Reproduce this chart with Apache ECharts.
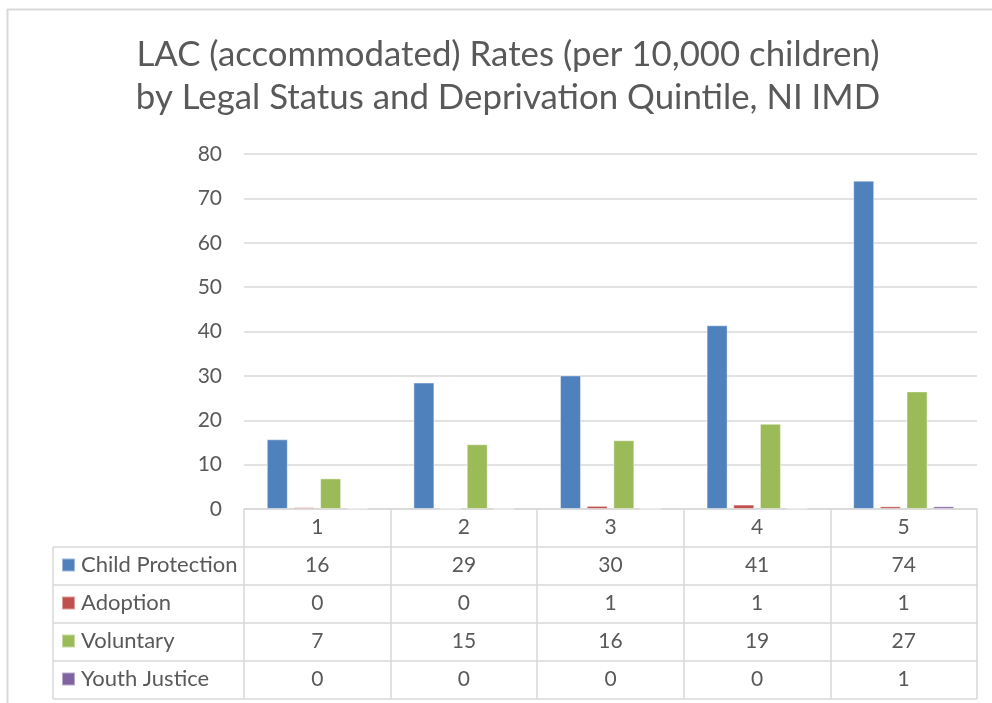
<!DOCTYPE html>
<html>
<head>
<meta charset="utf-8">
<script src="https://cdn.jsdelivr.net/npm/echarts@6/dist/echarts.min.js"></script>
<style>html,body{margin:0;padding:0;background:#fff;}#c{width:992px;height:703px;}</style>
</head>
<body>
<div id="c"></div>
<script>
const categories = ['1', '2', '3', '4', '5'];
const seriesNames = ['Child Protection', 'Adoption', 'Voluntary', 'Youth Justice'];
const childProtection = [15.7, 28.5, 30.1, 41.4, 74.0];
const adoption = [0.4, 0.1, 0.7, 1.0, 0.6];
const voluntary = [6.9, 14.6, 15.5, 19.2, 26.5];
const youthJustice = [0.1, 0.0, 0.05, 0.1, 0.6];
const yTicks = { min: 0, max: 80, interval: 10 };

const seriesValues = [childProtection, adoption, voluntary, youthJustice];
const colors = ['#4F81BD', '#C0504D', '#9BBB59', '#8064A2'];
const FONT = 'Lato';
const TXT = '#595959';
const LINE = '#D9D9D9';

const W = 992, H = 703;
const GRID_LEFT = 244, GRID_RIGHT_X = 977, GRID_TOP = 154, AXIS_Y = 509;
const ROW_H = 38;
const TABLE_LEFT = 53;
const FS = 21;
const LFS = 22;

const xAxes = [];
for (let k = 0; k <= seriesValues.length; k++) {
  xAxes.push({
    type: 'category',
    data: categories,
    position: 'bottom',
    offset: k * ROW_H,
    boundaryGap: true,
    axisLine: { show: true, lineStyle: { color: LINE, width: 1.5 } },
    axisTick: { show: true, interval: 0, length: ROW_H, lineStyle: { color: LINE, width: 1.5 } },
    axisLabel: {
      show: true, interval: 0, margin: 8, color: TXT, fontSize: FS, fontFamily: FONT,
      formatter: k === 0 ? null : (function (arr) { return function (v, i) { return String(Math.round(arr[i])); }; })(seriesValues[k - 1])
    },
    splitLine: { show: false }
  });
}

const graphics = [];
const gl = (x1, y1, x2, y2, w) => graphics.push({ type: 'line', silent: true, shape: { x1, y1, x2, y2 }, style: { stroke: LINE, lineWidth: w || 1.5 } });
// outer chart frame
gl(7, 9.5, W, 9.5, 2);
gl(7.5, 9, 7.5, H, 2);
// data-table label column
for (let k = 1; k <= seriesValues.length; k++) gl(TABLE_LEFT, AXIS_Y + k * ROW_H, GRID_LEFT, AXIS_Y + k * ROW_H);
gl(TABLE_LEFT, AXIS_Y + (seriesValues.length + 1) * ROW_H, GRID_RIGHT_X, AXIS_Y + (seriesValues.length + 1) * ROW_H);
gl(TABLE_LEFT, AXIS_Y + ROW_H, TABLE_LEFT, AXIS_Y + (seriesValues.length + 1) * ROW_H);

const option = {
  animation: false,
  backgroundColor: '#fff',
  color: colors,
  title: {
    text: 'LAC (accommodated) Rates (per 10,000 children)\nby Legal Status and Deprivation Quintile, NI IMD',
    left: 508,
    textAlign: 'center',
    top: 33,
    padding: 0,
    textStyle: { fontFamily: FONT, fontSize: 34.8, fontWeight: 'normal', color: TXT, lineHeight: 43 }
  },
  legend: {
    orient: 'vertical',
    left: 61,
    top: AXIS_Y + ROW_H + (ROW_H - LFS) / 2 - 1,
    padding: 0,
    itemWidth: 13,
    itemHeight: 13,
    itemGap: ROW_H - LFS,
    icon: 'rect',
    selectedMode: false,
    data: seriesNames,
    textStyle: { fontFamily: FONT, fontSize: LFS, color: TXT, padding: [0, 0, 0, 1] }
  },
  grid: { left: GRID_LEFT, right: W - GRID_RIGHT_X, top: GRID_TOP, bottom: H - AXIS_Y, containLabel: false },
  xAxis: xAxes,
  yAxis: {
    type: 'value',
    min: yTicks.min, max: yTicks.max, interval: yTicks.interval,
    axisLine: { show: false },
    axisTick: { show: false },
    axisLabel: { color: TXT, fontSize: FS, fontFamily: FONT, margin: 22 },
    splitLine: { lineStyle: { color: LINE, width: 1.5 } }
  },
  graphic: graphics,
  series: seriesNames.map((name, i) => ({
    name: name,
    type: 'bar',
    xAxisIndex: 0,
    data: seriesValues[i],
    barWidth: 21,
    barGap: '27%',
    itemStyle: { color: colors[i], borderColor: 'rgba(255,255,255,0.45)', borderWidth: 1 }
  }))
};

const chart = echarts.init(document.getElementById('c'), null, { renderer: 'canvas' });
chart.setOption(option);
</script>
</body>
</html>
